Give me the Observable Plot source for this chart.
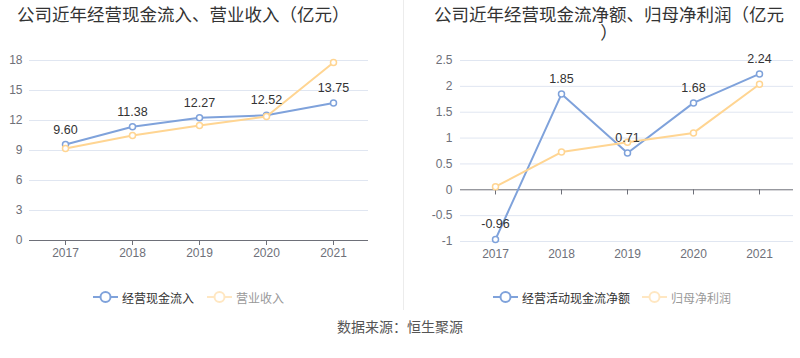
<!DOCTYPE html>
<html>
<head>
<meta charset="utf-8">
<script src="https://cdn.jsdelivr.net/npm/d3@7"></script>
<script src="https://cdn.jsdelivr.net/npm/@observablehq/plot@0.6"></script>
<style>
  body { margin: 0; background: #fff; }
  #root { position: relative; width: 800px; height: 358px; background: #fff; overflow: hidden;
          font-family: "Noto Sans CJK SC", "Liberation Sans", sans-serif; }
  .title { position: absolute; font-size: 17.5px; line-height: 18px; color: #333; white-space: nowrap; }
  .title.wrap { white-space: normal; line-break: anywhere; word-break: break-all; text-align: center; }
  .panel { position: absolute; top: 0; }
  .sep { position: absolute; left: 403px; top: 0; width: 1px; height: 310px; background: #ececec; }
  .legend { position: absolute; top: 289px; height: 16px; display: flex; align-items: center; font-size: 12px; white-space: nowrap; }
  .legend svg { margin-right: 4px; }
  .caption { position: absolute; top: 316px; left: 0; width: 800px; text-align: center; font-size: 14px; color: #555; }
</style>
</head>
<body>
<div id="root"></div>
<script>
// ---- data ----
const years = ["2017", "2018", "2019", "2020", "2021"];
const cashInflow = [9.60, 11.38, 12.27, 12.52, 13.75];     // 经营现金流入
const revenue = [9.2, 10.5, 11.5, 12.4, 17.8];             // 营业收入
const netCashFlow = [-0.96, 1.85, 0.71, 1.68, 2.24];       // 经营活动现金流净额
const netProfit = [0.06, 0.73, 0.92, 1.10, 2.04];          // 归母净利润
const leftTicks = [0, 3, 6, 9, 12, 15, 18];
const rightTicks = [-1, -0.5, 0, 0.5, 1, 1.5, 2, 2.5];
const leftTitle = "公司近年经营现金流入、营业收入（亿元）";
const rightTitle = "公司近年经营现金流净额、归母净利润（亿元）";
const leftNames = ["经营现金流入", "营业收入"];
const rightNames = ["经营活动现金流净额", "归母净利润"];
const caption = "数据来源：恒生聚源";

const BLUE = "#7fa2db";
const ORANGE = "#ffd592";
const AXIS = "#6e7079";
const GRID = "#e0e6f1";

const root = document.getElementById("root");

function addDiv(cls, text, style) {
  const d = document.createElement("div");
  d.className = cls;
  d.textContent = text;
  Object.assign(d.style, style || {});
  root.appendChild(d);
  return d;
}

function chart({a, b, ticks, domain, marginLeft, marginRight, marginBottom, tickLen, xPad, yPad}) {
  const d1 = years.map((y, i) => ({year: y, v: a[i]}));
  const d2 = years.map((y, i) => ({year: y, v: b[i]}));
  return Plot.plot({
    width: 400,
    height: 265,
    marginTop: 60,
    marginBottom,
    marginLeft,
    marginRight,
    style: {fontFamily: "'Liberation Sans', 'Noto Sans CJK SC', sans-serif", fontSize: "12px", color: AXIS, background: "transparent"},
    x: {type: "point", domain: years, padding: 0.5, label: null},
    y: {domain, ticks, label: null},
    marks: [
      Plot.ruleY(ticks.filter(t => t !== 0), {stroke: GRID, strokeWidth: 1}),
      Plot.ruleY([0], {stroke: AXIS, strokeWidth: 1}),
      Plot.ruleX(years, {x: d => d, y1: 0, y2: tickLen, stroke: AXIS, strokeWidth: 1}),
      Plot.axisY({ticks, tickSize: 0, tickPadding: yPad, tickFormat: d => String(d), fontSize: 12, fill: AXIS, label: null}),
      Plot.axisX({tickSize: 0, tickPadding: xPad, fontSize: 12, fill: AXIS, label: null}),
      Plot.line(d1, {x: "year", y: "v", stroke: BLUE, strokeWidth: 2}),
      Plot.dot(d1, {x: "year", y: "v", r: 3, stroke: BLUE, fill: "white", strokeWidth: 1.5}),
      Plot.line(d2, {x: "year", y: "v", stroke: ORANGE, strokeWidth: 2}),
      Plot.dot(d2, {x: "year", y: "v", r: 3, stroke: ORANGE, fill: "white", strokeWidth: 1.5}),
      Plot.text(d1, {x: "year", y: "v", text: d => d.v.toFixed(2), dy: -15, fill: "#333", fontSize: 12.5})
    ]
  });
}

// titles
addDiv("title", leftTitle, {left: "17px", top: "5px"});
addDiv("title wrap", rightTitle, {left: "431px", top: "5px", width: "356px"});

// separator
addDiv("sep", "");

// left chart
const left = chart({a: cashInflow, b: revenue, ticks: leftTicks, domain: [0, 18],
  marginLeft: 29, marginRight: 32, marginBottom: 25, tickLen: -0.5, xPad: 8, yPad: 7});
const lp = document.createElement("div");
lp.className = "panel"; lp.style.left = "0px"; lp.appendChild(left); root.appendChild(lp);

// right chart
const right = chart({a: netCashFlow, b: netProfit, ticks: rightTicks, domain: [-1, 2.5],
  marginLeft: 60, marginRight: 7, marginBottom: 24, tickLen: -0.1, xPad: 7.5, yPad: 8});
const rp = document.createElement("div");
rp.className = "panel"; rp.style.left = "400px"; rp.appendChild(right); root.appendChild(rp);

// legends
function icon(color) {
  const ns = "http://www.w3.org/2000/svg";
  const s = document.createElementNS(ns, "svg");
  s.setAttribute("width", 25); s.setAttribute("height", 14);
  s.innerHTML = `<line x1="0" y1="7" x2="25" y2="7" stroke="${color}" stroke-width="2"/>` +
    `<circle cx="12.5" cy="7" r="5" fill="white" stroke="${color}" stroke-width="2"/>`;
  return s;
}
function legendItem(x, name, color, textColor) {
  const d = document.createElement("div");
  d.className = "legend";
  d.style.left = x + "px";
  d.style.color = textColor;
  d.appendChild(icon(color));
  const t = document.createElement("span");
  t.textContent = name;
  d.appendChild(t);
  root.appendChild(d);
}
legendItem(93, leftNames[0], BLUE, "#333");
legendItem(207, leftNames[1], "#ffe7c2", "#999");
legendItem(493, rightNames[0], BLUE, "#333");
legendItem(642, rightNames[1], "#ffe7c2", "#999");

// caption
addDiv("caption", caption);
</script>
</body>
</html>
